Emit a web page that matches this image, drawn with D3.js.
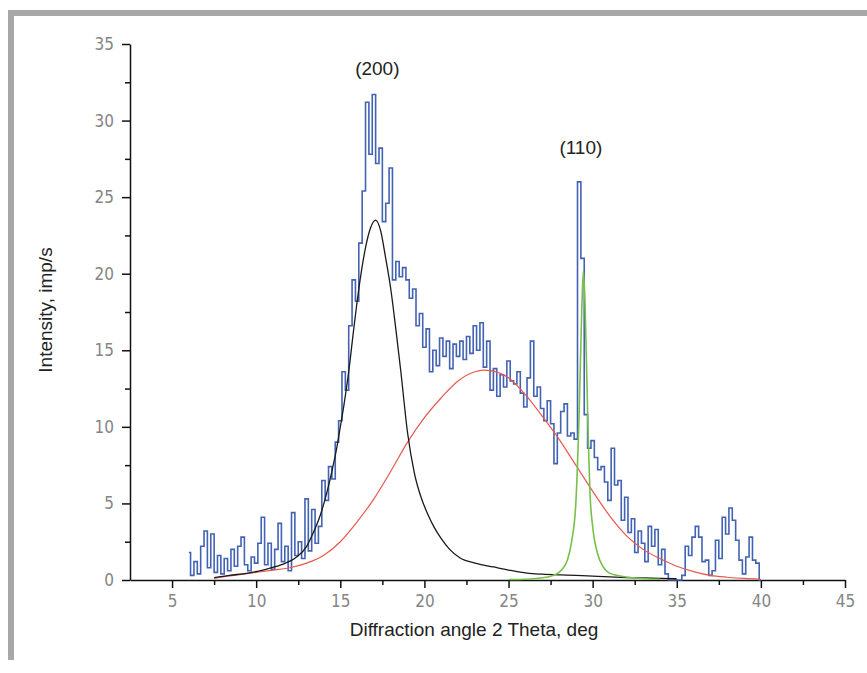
<!DOCTYPE html>
<html><head><meta charset="utf-8">
<script src="https://cdn.jsdelivr.net/npm/d3@7"></script>
<style>body{margin:0;background:#fff}svg{display:block}</style>
</head><body>
<svg id="chart" width="867" height="673"></svg>
<script>
// ---- data ----
const blueStartAngle = 6.0;
const blueAngleStep = 0.2;
const blueIntensity = [
  1.8,0.3,1.2,0.4,2.2,   3.2,0.8,3.0,0.5,1.6,   0.4,1.4,0.6,2.0,0.9,   2.2,2.8,1.0,0.6,1.5,
  1.1,2.4,4.1,1.0,2.4,   0.7,2.0,3.7,1.2,2.2,   0.6,4.4,1.6,2.5,1.4,   5.3,1.9,4.6,2.4,3.5,
  6.5,5.2,7.4,6.6,9.0,   10.4,13.6,12.4,16.6,19.6, 18.2,22.0,25.4,31.2,27.8, 31.7,27.2,28.2,23.4,24.6,
  26.9,19.6,20.8,19.8,20.4, 19.6,18.4,19.0,16.6,17.4, 15.2,16.4,13.6,15.0,14.0, 15.8,14.6,15.6,13.8,15.4,
  14.6,15.6,14.4,15.9,14.8, 16.6,15.0,16.8,13.9,15.6, 12.4,13.8,12.0,13.4,12.6, 14.3,13.0,12.8,13.6,12.2,
  11.3,13.2,15.6,12.0,12.6, 11.2,10.4,11.7,10.2,7.6, 9.6,11.0,11.5,9.4,9.6,   9.2,26.0,21.0,10.8,8.6,
  9.1,8.0,7.2,7.4,6.4,   5.2,8.6,6.2,6.5,3.9,   5.4,3.1,4.0,1.8,3.2,   2.4,1.2,3.5,2.2,3.3,
  1.0,2.0,0.4,0.0,0.0,   0.0,0.0,0.3,2.2,1.6,   2.8,3.5,2.8,1.2,1.3,   0.3,0.6,2.6,1.4,4.1,
  3.0,4.7,3.9,2.6,1.3,   0.4,1.5,2.8,1.3,1.1,   0.0
];

const peak200Angle = [7.5,8.4,9.5,10.4,11.5,12.4,13.0,13.4,13.8,14.2,14.5,14.8,15.0,15.2,15.5,15.8,16.1,16.5,16.8,17.1,17.4,17.7,18.0,18.3,18.6,19.0,19.4,19.8,20.2,20.6,21.0,21.5,22.1,23.0,24.1,25.0,26.1,27.0,28.1,29.0,30.0,31.0,32.0,33.0,34.0,35.0];
const peak200Intensity = [0.15,0.3,0.45,0.65,1.0,1.5,2.2,3.1,4.2,5.7,7.1,8.7,10.0,11.3,13.6,16.4,19.0,21.7,23.0,23.5,22.8,21.0,19.0,16.4,13.6,9.6,7.0,5.4,4.3,3.4,2.7,2.0,1.45,1.1,0.85,0.65,0.45,0.38,0.33,0.3,0.25,0.2,0.16,0.13,0.1,0.08];

const amorphAngle = [7.5,8,9,10,11,12,13,14,15,16,17,18,19,20,21,22,23,23.5,24,25,26,27,28,29,30,31,32,33,34,35,36,37,38,39,40];
const amorphIntensity = [0.1,0.2,0.35,0.5,0.65,0.8,1.1,1.6,2.5,3.8,5.3,7.1,9.0,10.6,11.9,13.0,13.6,13.7,13.65,13.2,12.1,10.7,9.2,7.5,5.8,4.2,2.9,2.0,1.4,0.9,0.55,0.3,0.18,0.1,0.05];

const peak110Angle = [25,26,27,27.5,28,28.5,28.75,29,29.2,29.35,29.45,29.55,29.7,29.85,30,30.3,30.6,31,32,33,34];
const peak110Intensity = [0.03,0.05,0.15,0.25,0.5,1.3,2.5,5.0,11,17.5,20.2,18,11,5.5,3.5,1.7,0.9,0.45,0.2,0.1,0.05];

const xMajorTicks = [5,10,15,20,25,30,35,40,45];
const xMinorTicks = [7.5,12.5,17.5,22.5,27.5,32.5,37.5,42.5];
const yMajorTicks = [0,5,10,15,20,25,30,35];
const yMinorTicks = [2.5,7.5,12.5,17.5,22.5,27.5,32.5];
const peakLabels = [{text:"(200)", angle:17.2, value:33.0},{text:"(110)", angle:29.3, value:27.8}];
const xTitle = "Diffraction angle 2 Theta, deg";
const yTitle = "Intensity, imp/s";

// ---- drawing ----
const svg = d3.select("#chart");
const x = d3.scaleLinear().domain([2.5,45]).range([130,845]);
const y = d3.scaleLinear().domain([0,35]).range([580,44]);

// frame
svg.append("rect").attr("x",8).attr("y",10).attr("width",859).attr("height",6).attr("fill","#a8a8a8");
svg.append("rect").attr("x",8).attr("y",10).attr("width",6).attr("height",650).attr("fill","#a8a8a8");

const tickFont = "'Liberation Sans Narrow','DejaVu Sans Condensed','Liberation Sans',sans-serif";

// axes
svg.append("g").attr("transform",`translate(0,${y(0)})`)
  .call(d3.axisBottom(x).tickValues(xMajorTicks).tickSizeInner(8).tickSizeOuter(0).tickPadding(7));
svg.append("g").attr("transform",`translate(0,${y(0)})`)
  .call(d3.axisBottom(x).tickValues(xMinorTicks).tickSize(5).tickFormat(""))
  .select(".domain").remove();
svg.append("g").attr("transform",`translate(${x(2.5)},0)`)
  .call(d3.axisLeft(y).tickValues(yMajorTicks).tickSizeInner(8).tickSizeOuter(0).tickPadding(8));
svg.append("g").attr("transform",`translate(${x(2.5)},0)`)
  .call(d3.axisLeft(y).tickValues(yMinorTicks).tickSize(5).tickFormat(""))
  .select(".domain").remove();
svg.selectAll(".domain").attr("stroke","#111").attr("stroke-width",1.5);
svg.selectAll(".tick line").attr("stroke","#111").attr("stroke-width",1.5);
svg.selectAll(".tick text").attr("font-family",tickFont).attr("font-size",17).attr("fill","#858585");

// series
const blueData = blueIntensity.map((v,i)=>({a: blueStartAngle + i*blueAngleStep, v}));
const lineB = d3.line().x(d=>x(d.a)).y(d=>y(d.v)).curve(d3.curveStep);
svg.append("path").datum(blueData).attr("d",lineB)
  .attr("fill","none").attr("stroke","#4262b4").attr("stroke-width",1.6);

const smooth = d3.line().x(d=>x(d[0])).y(d=>y(d[1])).curve(d3.curveMonotoneX);
svg.append("path").datum(d3.zip(amorphAngle,amorphIntensity)).attr("d",smooth)
  .attr("fill","none").attr("stroke","#e8584e").attr("stroke-width",1.2);
svg.append("path").datum(d3.zip(peak200Angle,peak200Intensity)).attr("d",smooth)
  .attr("fill","none").attr("stroke","#1a1a1a").attr("stroke-width",1.3);
svg.append("path").datum(d3.zip(peak110Angle,peak110Intensity)).attr("d",smooth)
  .attr("fill","none").attr("stroke","#78c04a").attr("stroke-width",1.6);

// labels
const textFont = "'Liberation Sans',Arial,sans-serif";
svg.selectAll(".plabel").data(peakLabels).enter().append("text")
  .attr("x",d=>x(d.angle)).attr("y",d=>y(d.value))
  .attr("text-anchor","middle").attr("font-family",textFont).attr("font-size",19).attr("fill","#222")
  .text(d=>d.text);
svg.append("text").attr("x",474).attr("y",636).attr("text-anchor","middle")
  .attr("font-family",textFont).attr("font-size",19).attr("fill","#222").text(xTitle);
svg.append("text").attr("transform","translate(52,310) rotate(-90)").attr("text-anchor","middle")
  .attr("font-family",textFont).attr("font-size",19).attr("fill","#222").text(yTitle);
</script>
</body></html>
